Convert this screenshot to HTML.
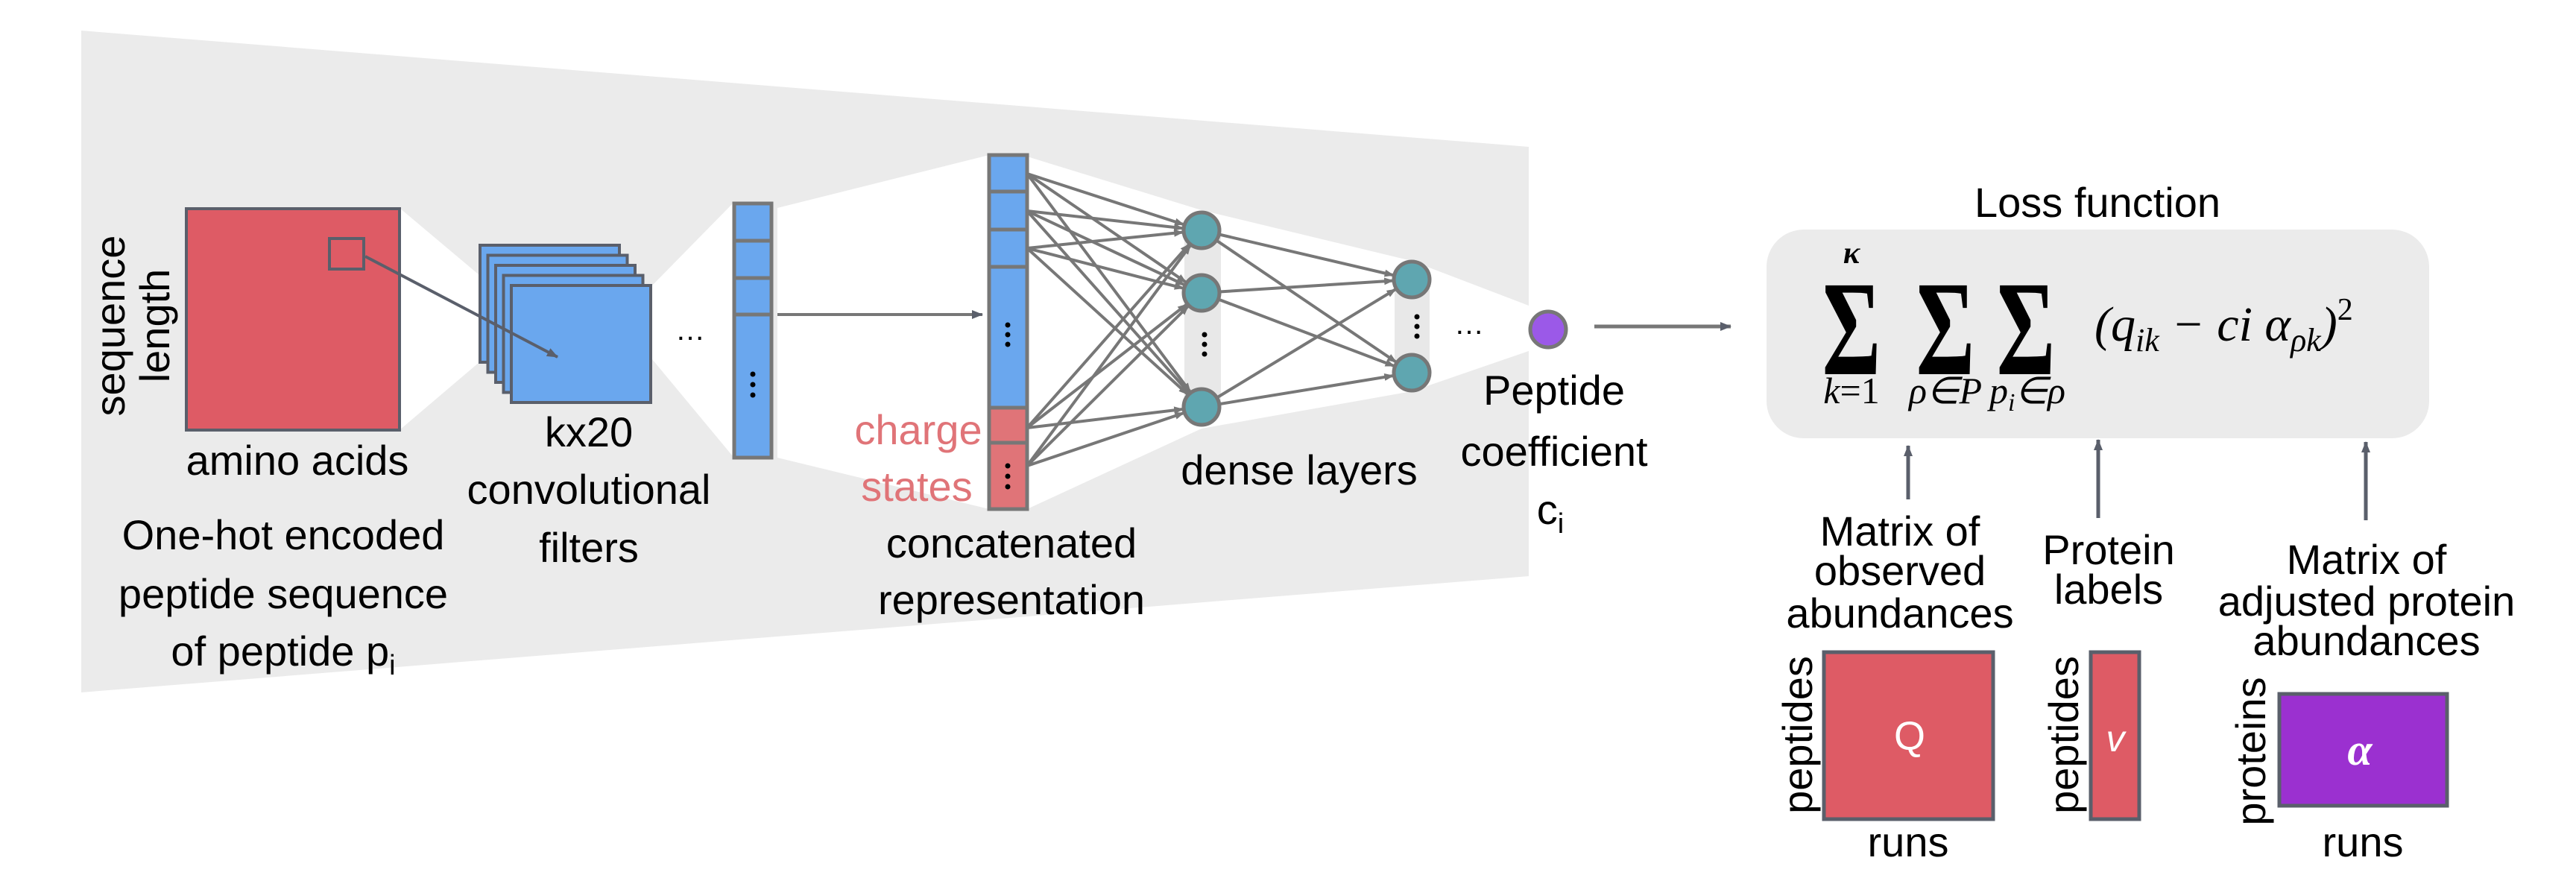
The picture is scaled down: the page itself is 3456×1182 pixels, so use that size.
<!DOCTYPE html>
<html><head><meta charset="utf-8"><style>
html,body{margin:0;padding:0;background:#fff;}
svg{display:block;}
.s{font-family:"Liberation Sans",sans-serif;}
.m{font-family:"Liberation Serif",serif;}
</style></head><body>
<svg width="3456" height="1182" viewBox="0 0 3456 1182" xmlns="http://www.w3.org/2000/svg">
<defs>
<marker id="ah" markerUnits="userSpaceOnUse" markerWidth="14" markerHeight="12" refX="37" refY="5" orient="auto"><path d="M0,0 L13,5 L0,10 z" fill="#777"/></marker>
<marker id="ah0" markerUnits="userSpaceOnUse" markerWidth="16" markerHeight="14" refX="14" refY="6" orient="auto"><path d="M0,0 L15,6 L0,12 z" fill="#5a5f6b"/></marker>
</defs>
<polygon points="109,41 2051,197 2051,773 109,929" fill="#ebebeb"/>
<polygon points="536,279 643,369 643,486 536,577" fill="#fff"/>
<polygon points="875,383 983,273 983,612 875,482" fill="#fff"/>
<polygon points="1043,279 1327,208 1327,683 1043,614" fill="#fff"/>
<polygon points="1378,210 1612,282 1894,350 2077,420 2077,462 1894,525 1612,575 1378,683" fill="#fff"/>
<rect x="1589" y="305" width="49" height="245" fill="#e8e8e8"/>
<rect x="1871" y="372" width="47" height="130" fill="#e8e8e8"/>

<rect x="250" y="280" width="286" height="297" fill="#de5b65" stroke="#5a5f6b" stroke-width="4"/>
<rect x="442" y="320" width="46" height="41" fill="none" stroke="#5a5f6b" stroke-width="4"/>
<g fill="#6aa7ee" stroke="#5a5f6b" stroke-width="4">
<rect x="644" y="329" width="187" height="157"/>
<rect x="654.5" y="342.5" width="187" height="157"/>
<rect x="665" y="356" width="187" height="157"/>
<rect x="675.5" y="369.5" width="187" height="157"/>
<rect x="686" y="383" width="187" height="157"/>
</g>
<line x1="490" y1="344" x2="748" y2="479" stroke="#5a5f6b" stroke-width="4" marker-end="url(#ah0)"/>
<text class="s" x="926" y="456" font-size="40" text-anchor="middle">…</text>
<rect x="985" y="273" width="50" height="341" fill="#6aa7ee" stroke="#777" stroke-width="5"/>
<g stroke="#777" stroke-width="5"><line x1="985" y1="323" x2="1035" y2="323"/><line x1="985" y1="373" x2="1035" y2="373"/><line x1="985" y1="422" x2="1035" y2="422"/></g>
<g fill="#000"><circle cx="1010" cy="502" r="3.5"/><circle cx="1010" cy="516" r="3.5"/><circle cx="1010" cy="530" r="3.5"/></g>
<line x1="1043" y1="422" x2="1318" y2="422" stroke="#777" stroke-width="4" marker-end="url(#ah0)"/>

<rect x="1327" y="208" width="51" height="339" fill="#6aa7ee"/>
<rect x="1327" y="547" width="51" height="136" fill="#e07478"/>
<rect x="1327" y="208" width="51" height="475" fill="none" stroke="#777" stroke-width="5"/>
<g stroke="#777" stroke-width="5"><line x1="1327" y1="257" x2="1378" y2="257"/><line x1="1327" y1="308" x2="1378" y2="308"/><line x1="1327" y1="358" x2="1378" y2="358"/><line x1="1327" y1="547" x2="1378" y2="547"/><line x1="1327" y1="594" x2="1378" y2="594"/></g>
<g fill="#000"><circle cx="1352" cy="436" r="3.5"/><circle cx="1352" cy="449" r="3.5"/><circle cx="1352" cy="462" r="3.5"/>
<circle cx="1352" cy="625" r="3.5"/><circle cx="1352" cy="639" r="3.5"/><circle cx="1352" cy="653" r="3.5"/></g>

<g stroke="#777" stroke-width="4" marker-end="url(#ah)">
<line x1="1378" y1="233" x2="1612" y2="309"/><line x1="1378" y1="233" x2="1612" y2="393"/><line x1="1378" y1="233" x2="1612" y2="546"/>
<line x1="1378" y1="283" x2="1612" y2="309"/><line x1="1378" y1="283" x2="1612" y2="393"/><line x1="1378" y1="283" x2="1612" y2="546"/>
<line x1="1378" y1="333" x2="1612" y2="309"/><line x1="1378" y1="333" x2="1612" y2="393"/><line x1="1378" y1="333" x2="1612" y2="546"/>
<line x1="1378" y1="574" x2="1612" y2="309"/><line x1="1378" y1="574" x2="1612" y2="393"/><line x1="1378" y1="574" x2="1612" y2="546"/>
<line x1="1378" y1="625" x2="1612" y2="309"/><line x1="1378" y1="625" x2="1612" y2="393"/><line x1="1378" y1="625" x2="1612" y2="546"/>
<line x1="1612" y1="309" x2="1894" y2="375"/><line x1="1612" y1="309" x2="1894" y2="500"/>
<line x1="1612" y1="393" x2="1894" y2="375"/><line x1="1612" y1="393" x2="1894" y2="500"/>
<line x1="1612" y1="546" x2="1894" y2="375"/><line x1="1612" y1="546" x2="1894" y2="500"/>
</g>
<g fill="#5fa6b0" stroke="#777" stroke-width="5">
<circle cx="1612" cy="309" r="24"/><circle cx="1612" cy="393" r="24"/><circle cx="1612" cy="546" r="24"/>
<circle cx="1894" cy="375" r="24"/><circle cx="1894" cy="500" r="24"/>
</g>
<g fill="#000"><circle cx="1616" cy="449" r="3.5"/><circle cx="1616" cy="462" r="3.5"/><circle cx="1616" cy="475" r="3.5"/>
<circle cx="1901" cy="425" r="3.5"/><circle cx="1901" cy="438" r="3.5"/><circle cx="1901" cy="451" r="3.5"/></g>
<text class="s" x="1971" y="448" font-size="40" text-anchor="middle">…</text>
<circle cx="2077" cy="442" r="24" fill="#9b59e8" stroke="#777" stroke-width="5"/>
<line x1="2139" y1="438" x2="2322" y2="438" stroke="#777" stroke-width="5" marker-end="url(#ah0)"/>

<g class="s" font-size="56" fill="#000" text-anchor="middle">
<text transform="translate(167,437) rotate(-90)">sequence</text>
<text transform="translate(227,437) rotate(-90)">length</text>
<text x="399" y="637">amino acids</text>
<text x="380" y="737">One-hot encoded</text>
<text x="380" y="816">peptide sequence</text>
<text x="380" y="893">of peptide p<tspan font-size="38" dy="12">i</tspan></text>
<text x="790" y="599">kx20</text>
<text x="790" y="676">convolutional</text>
<text x="790" y="754">filters</text>
<text x="1232" y="596" fill="#e07478">charge</text>
<text x="1230" y="672" fill="#e07478">states</text>
<text x="1357" y="748">concatenated</text>
<text x="1357" y="824">representation</text>
<text x="1743" y="650">dense layers</text>
<text x="2085" y="543">Peptide</text>
<text x="2085" y="625">coefficient</text>
<text x="2080" y="703">c<tspan font-size="38" dy="12">i</tspan></text>
</g>

<text class="s" x="2814" y="291" font-size="56" text-anchor="middle">Loss function</text>
<rect x="2370" y="308" width="889" height="280" rx="50" fill="#ebebeb"/>
<g class="m" fill="#000">
<text transform="translate(2484,502) scale(0.66,1)" font-size="182" font-weight="bold" text-anchor="middle">Σ</text>
<text transform="translate(2610,502) scale(0.66,1)" font-size="182" font-weight="bold" text-anchor="middle">Σ</text>
<text transform="translate(2718,502) scale(0.66,1)" font-size="182" font-weight="bold" text-anchor="middle">Σ</text>
<text x="2484" y="353" font-size="42" font-style="italic" font-weight="bold" text-anchor="middle">κ</text>
<text x="2484" y="541" font-size="50" text-anchor="middle"><tspan font-style="italic">k</tspan>=1</text>
<text x="2610" y="541" font-size="50" font-style="italic" text-anchor="middle">ρ∈P</text>
<text x="2720" y="541" font-size="50" font-style="italic" text-anchor="middle">p<tspan font-size="34" dy="10">i</tspan><tspan dy="-10">∈ρ</tspan></text>
<text x="2810" y="457" font-size="66" font-style="italic">(q<tspan font-size="44" dy="14">ik</tspan><tspan dy="-14"> − ci α</tspan><tspan font-size="44" dy="14">ρk</tspan><tspan dy="-14">)</tspan><tspan font-size="42" dy="-28" font-style="normal">2</tspan></text>
</g>
<g stroke="#5a5f6b" stroke-width="5" marker-end="url(#ah0)">
<line x1="2560" y1="670" x2="2560" y2="598"/>
<line x1="2815" y1="695" x2="2815" y2="590"/>
<line x1="3174" y1="698" x2="3174" y2="593"/>
</g>
<g class="s" font-size="56" fill="#000" text-anchor="middle">
<text x="2549" y="732">Matrix of</text>
<text x="2549" y="785">observed</text>
<text x="2549" y="842">abundances</text>
<text x="2829" y="757">Protein</text>
<text x="2829" y="810">labels</text>
<text x="3175" y="770">Matrix of</text>
<text x="3175" y="826">adjusted protein</text>
<text x="3175" y="879">abundances</text>
<text transform="translate(2431,986) rotate(-90)">peptides</text>
<text transform="translate(2788,986) rotate(-90)">peptides</text>
<text transform="translate(3039,1008) rotate(-90)">proteins</text>
<text x="2560" y="1149">runs</text>
<text x="3170" y="1149">runs</text>
</g>
<rect x="2447" y="875" width="227" height="224" fill="#de5b65" stroke="#5a5f6b" stroke-width="5"/>
<rect x="2805" y="875" width="65" height="224" fill="#de5b65" stroke="#5a5f6b" stroke-width="5"/>
<rect x="3058" y="931" width="225" height="150" fill="#9b30d0" stroke="#5a5f6b" stroke-width="5"/>
<text class="s" x="2562" y="1006" font-size="54" fill="#fff" text-anchor="middle">Q</text>
<text class="s" x="2838" y="1008" font-size="50" fill="#fff" font-style="italic" text-anchor="middle">v</text>
<text class="m" x="3166" y="1026" font-size="60" fill="#fff" font-style="italic" font-weight="bold" text-anchor="middle">α</text>
</svg>
</body></html>
